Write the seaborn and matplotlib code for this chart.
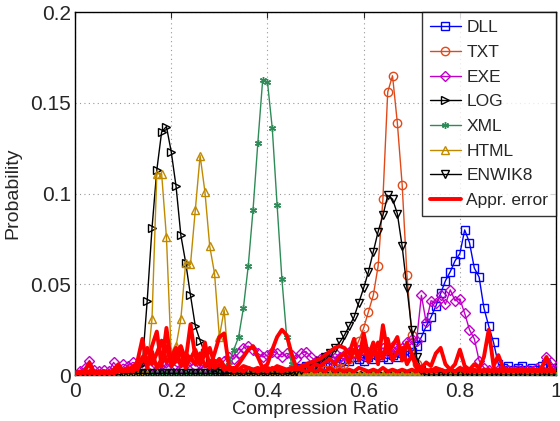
import numpy as np
import matplotlib
matplotlib.use("Agg")
import matplotlib.pyplot as plt
import seaborn as sns

# bins of the compression ratio histogram
ratio = [round(i * 0.01, 2) for i in range(101)]

dll = [0]*45 + [0.002, 0.003, 0.004, 0.005, 0.004, 0.006, 0.005, 0.007, 0.006, 0.008,
                0.007, 0.009, 0.008, 0.010, 0.009, 0.008, 0.010, 0.009, 0.011, 0.010,
                0.009, 0.011, 0.010, 0.012, 0.011, 0.013, 0.016, 0.021, 0.027, 0.032,
                0.038, 0.045, 0.052, 0.057, 0.063, 0.067, 0.080, 0.073, 0.059, 0.054,
                0.037, 0.027, 0.018, 0.006, 0.004, 0.005, 0.003, 0.004, 0.005, 0.003,
                0.004, 0.003, 0.005, 0.006, 0.004, 0.003]

txt = [0]*50 + [0.002, 0.002, 0.003, 0.003, 0.004, 0.004, 0.006, 0.009, 0.013, 0.019,
                0.026, 0.035, 0.044, 0.060, 0.097, 0.156, 0.165, 0.139, 0.105, 0.055,
                0.022, 0.006, 0.002] + [0]*28

exe = [0, 0.002, 0.004, 0.008, 0.003, 0.002, 0.003, 0.002, 0.007, 0.004,
       0.006, 0.005, 0.007, 0.006, 0.004, 0.008, 0.005, 0.003, 0.006, 0.004,
       0.007, 0.005, 0.004, 0.006, 0.008, 0.005, 0.006, 0.004, 0.005, 0.006,
       0.004, 0.008, 0.010, 0.009, 0.012, 0.015, 0.016, 0.014, 0.012, 0.010,
       0.011, 0.013, 0.012, 0.010, 0.012, 0.011, 0.009, 0.012, 0.013, 0.010,
       0.008, 0.009, 0.010, 0.009, 0.012, 0.010, 0.011, 0.013, 0.012, 0.014,
       0.011, 0.013, 0.014, 0.012, 0.015, 0.013, 0.016, 0.014, 0.015, 0.018,
       0.020, 0.019, 0.044, 0.029, 0.041, 0.040, 0.044, 0.039, 0.047, 0.041,
       0.042, 0.034, 0.025, 0.020, 0.008, 0.004, 0.003, 0.002, 0.003, 0.002,
       0.003, 0.002, 0.003, 0.002, 0.003, 0.002, 0.004, 0.003, 0.010, 0.007,
       0.003]

log = [0]*13 + [0.002, 0.006, 0.041, 0.081, 0.113, 0.134, 0.137, 0.123, 0.104, 0.077,
                0.062, 0.044, 0.027, 0.019, 0.012, 0.007, 0.004, 0.002] + [0]*70

xml = [0]*30 + [0.002, 0.004, 0.007, 0.014, 0.021, 0.037, 0.060, 0.091, 0.128, 0.1625,
                0.1616, 0.136, 0.094, 0.053, 0.021, 0.006, 0.002] + [0]*54

html = [0]*15 + [0.004, 0.031, 0.111, 0.111, 0.076, 0.011, 0.016, 0.031, 0.062, 0.061,
                 0.091, 0.121, 0.101, 0.071, 0.056, 0.021, 0.036, 0.003] + [0]*68

enwik8 = [0]*10 + [0.001]*36 + [0.002, 0.003, 0.004, 0.005, 0.006, 0.008, 0.010, 0.012,
                                0.015, 0.018, 0.022, 0.027, 0.032, 0.040, 0.048, 0.057,
                                0.068, 0.079, 0.088, 0.099, 0.097, 0.089, 0.071, 0.048,
                                0.025, 0.010, 0.003] + [0]*28

err_a = [0, 0.001, 0.002, 0.007, 0.001, 0.001, 0.002, 0.001, 0.003, 0.006,
         0.002, 0.004, 0.003, 0.008, 0.020, 0.004, 0.016, 0.024, 0.005, 0.026,
         0.006, 0.012, 0.016, 0.008, 0.028, 0.010, 0.006, 0.018, 0.004, 0.012,
         0.021, 0.023, 0.005, 0.003, 0.006, 0.010, 0.014, 0.016, 0.010, 0.004,
         0.006, 0.014, 0.021, 0.025, 0.022, 0.012, 0.004, 0.003, 0.002, 0.003,
         0.002, 0.003, 0.002, 0.004, 0.002, 0.003, 0.002, 0.003, 0.002, 0.004,
         0.003, 0.002, 0.003, 0.002, 0.004, 0.002, 0.003, 0.002, 0.003, 0.002,
         0.003, 0.002, 0.004, 0.002, 0.003, 0.002, 0.003, 0.002, 0.003, 0.002,
         0.003, 0.002, 0.003, 0.002, 0.003, 0.002, 0.003, 0.002, 0.003, 0.002,
         0.003, 0.002, 0.003, 0.002, 0.003, 0.002, 0.003, 0.002, 0.003, 0.002,
         0.002]

err_b = [0.001, 0.001, 0.002, 0.001, 0.002, 0.001, 0.002, 0.001, 0.002, 0.003,
         0.002, 0.003, 0.002, 0.004, 0.008, 0.015, 0.006, 0.012, 0.019, 0.007,
         0.010, 0.015, 0.005, 0.012, 0.009, 0.014, 0.007, 0.011, 0.015, 0.006,
         0.009, 0.005, 0.003, 0.004, 0.003, 0.005, 0.004, 0.003, 0.004, 0.003,
         0.004, 0.003, 0.005, 0.004, 0.003, 0.003, 0.004, 0.005, 0.006, 0.007,
         0.008, 0.009, 0.011, 0.013, 0.015, 0.016, 0.015, 0.012, 0.020, 0.008,
         0.023, 0.010, 0.018, 0.006, 0.0275, 0.012, 0.016, 0.021, 0.008, 0.018,
         0.012, 0.006, 0.004, 0.007, 0.005, 0.012, 0.015, 0.006, 0.003, 0.006,
         0.014, 0.005, 0.003, 0.006, 0.004, 0.010, 0.025, 0.005, 0.011, 0.004,
         0.002, 0.003, 0.002, 0.003, 0.002, 0.003, 0.002, 0.004, 0.010, 0.003,
         0.002]

err_c = [0.001, 0.002, 0.001, 0.002, 0.001, 0.002, 0.001, 0.002, 0.001, 0.002,
         0.003, 0.002, 0.005, 0.003, 0.010, 0.006, 0.013, 0.004, 0.009, 0.016,
         0.005, 0.008, 0.013, 0.004, 0.010, 0.006, 0.012, 0.005, 0.008, 0.004,
         0.006, 0.003, 0.004, 0.002, 0.003, 0.002, 0.004, 0.003, 0.002, 0.003,
         0.002, 0.004, 0.003, 0.002, 0.003, 0.004, 0.003, 0.004, 0.005, 0.004,
         0.006, 0.005, 0.007, 0.009, 0.006, 0.010, 0.012, 0.007, 0.014, 0.009,
         0.016, 0.007, 0.012, 0.018, 0.009, 0.020, 0.008, 0.013, 0.015, 0.006,
         0.011, 0.004, 0.002, 0.003, 0.002, 0.004, 0.003, 0.002, 0.003, 0.002,
         0.004, 0.003, 0.002, 0.003, 0.002, 0.003, 0.002, 0.003, 0.002, 0.003,
         0.002, 0.003, 0.002, 0.003, 0.002, 0.003, 0.002, 0.003, 0.002, 0.003,
         0.002]

x_ticks = [0, 0.2, 0.4, 0.6, 0.8, 1]
x_tick_labels = ["0", "0.2", "0.4", "0.6", "0.8", "1"]
y_ticks = [0, 0.05, 0.1, 0.15, 0.2]
y_tick_labels = ["0", "0.05", "0.1", "0.15", "0.2"]

for nm, arr in [("dll", dll), ("txt", txt), ("exe", exe), ("log", log), ("xml", xml),
                ("html", html), ("enwik8", enwik8), ("err_a", err_a),
                ("err_b", err_b), ("err_c", err_c)]:
    if len(arr) != len(ratio):
        raise ValueError(f"{nm} has length {len(arr)}")

sns.set_style("white")
plt.rcParams['font.family'] = ['Liberation Sans', 'DejaVu Sans']

fig = plt.figure(figsize=(5.6, 4.21), dpi=100)
ax = fig.add_axes([0.134, 0.109, 0.859, 0.862])

series = [
    ("DLL", dll, "#0000FF", "s", 6),
    ("TXT", txt, "#E04A1A", "o", 6),
    ("EXE", exe, "#C000C8", "D", 5),
    ("LOG", log, "#000000", ">", 6),
    ("XML", xml, "#2E8B57", (6, 2, 0), 5),
    ("HTML", html, "#C08A00", "^", 6),
    ("ENWIK8", enwik8, "#000000", "v", 6),
]
for name, vals, col, mk, ms in series:
    sns.lineplot(x=ratio, y=vals, ax=ax, color=col, lw=1.0, marker=mk,
                 markersize=ms, markerfacecolor="none", markeredgecolor=col,
                 markeredgewidth=1.0, label=name, zorder=3)

for i, err in enumerate([err_a, err_b, err_c]):
    sns.lineplot(x=ratio, y=err, ax=ax, color="#FF0000", lw=2.8,
                 label="Appr. error" if i == 0 else None, zorder=4)

ax.set_xlim(0, 1)
ax.set_ylim(0, 0.2)
ax.set_xticks(x_ticks)
ax.set_xticklabels(x_tick_labels, fontsize=15)
ax.set_yticks(y_ticks)
ax.set_yticklabels(y_tick_labels, fontsize=15)
ax.tick_params(direction="in", length=4, width=0.8, top=True, right=True)
ax.tick_params(axis="x", pad=5)
ax.tick_params(axis="y", pad=3)
ax.grid(True, linestyle=(0, (1, 3)), color="#999999", linewidth=0.8)
for s in ax.spines.values():
    s.set_color("black")
    s.set_linewidth(1.0)
ax.set_xlabel("Compression Ratio", fontsize=14, labelpad=0)
ax.set_ylabel("Probability", fontsize=14, labelpad=6)

leg = ax.legend(loc="upper right", borderaxespad=0, fontsize=12.5, frameon=True,
                fancybox=False, edgecolor="black", handlelength=1.8,
                handletextpad=0.3, labelspacing=0.55, borderpad=0.45)
leg.get_frame().set_linewidth(1.0)
leg.set_zorder(10)

fig.savefig("out.png", dpi=100)
